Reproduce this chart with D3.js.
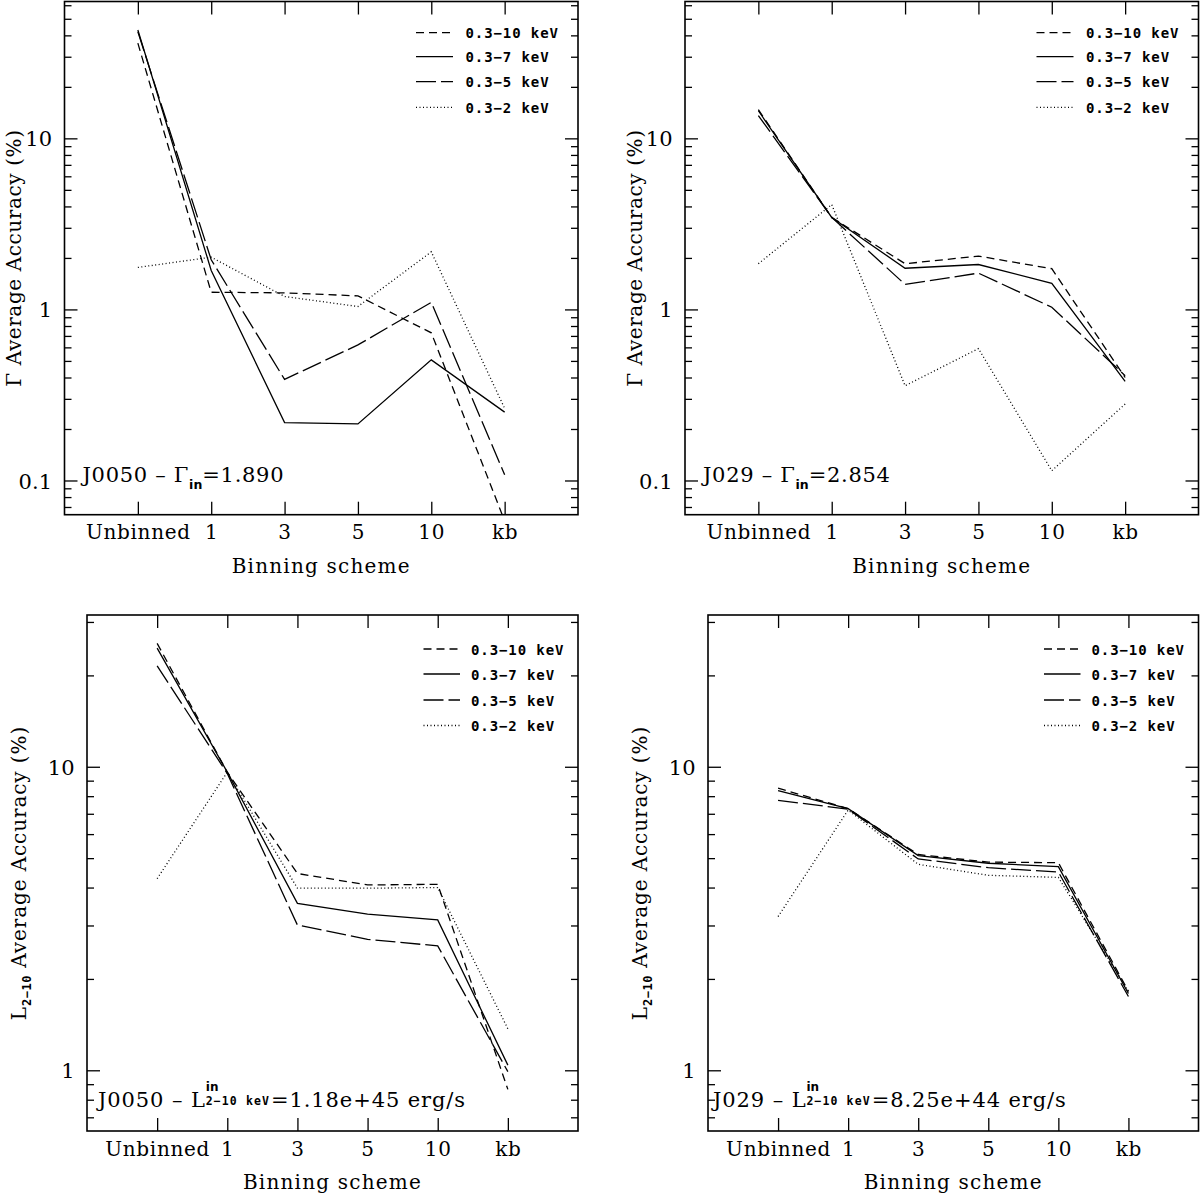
<!DOCTYPE html>
<html><head><meta charset="utf-8">
<script src="https://cdn.jsdelivr.net/npm/d3@7"></script>
<style>body{margin:0;background:#fff} svg{display:block}</style>
</head><body><svg id="c" width="1200" height="1195"></svg>
<script>
// ---------- data ----------
const categories = ["Unbinned", "1", "3", "5", "10", "kb"];
const bands = ["0.3-10 keV", "0.3-7 keV", "0.3-5 keV", "0.3-2 keV"];

// Gamma accuracy, J0050
const gammaJ0050_10 = [36, 1.26, 1.25, 1.2, 0.73, 0.058];
const gammaJ0050_7  = [43, 1.69, 0.218, 0.214, 0.507, 0.251];
const gammaJ0050_5  = [42, 1.95, 0.39, 0.62, 1.1, 0.108];
const gammaJ0050_2  = [1.76, 2.02, 1.19, 1.04, 2.17, 0.264];
// Gamma accuracy, J029
const gammaJ029_10 = [14.7, 3.45, 1.85, 2.05, 1.73, 0.40];
const gammaJ029_7  = [14.5, 3.45, 1.74, 1.83, 1.42, 0.38];
const gammaJ029_5  = [13.6, 3.45, 1.40, 1.63, 1.03, 0.41];
const gammaJ029_2  = [1.85, 4.1, 0.358, 0.59, 0.114, 0.28];
// L2-10 accuracy, J0050
const lumJ0050_10 = [25.5, 9.6, 4.45, 4.08, 4.1, 0.865];
const lumJ0050_7  = [24.6, 9.6, 3.55, 3.27, 3.13, 1.04];
const lumJ0050_5  = [21.5, 9.5, 3.01, 2.70, 2.57, 0.99];
const lumJ0050_2  = [4.28, 9.6, 3.98, 3.98, 4.0, 1.37];
// L2-10 accuracy, J029
const lumJ029_10 = [8.5, 7.28, 5.14, 4.85, 4.83, 1.82];
const lumJ029_7  = [8.34, 7.28, 5.1, 4.81, 4.69, 1.79];
const lumJ029_5  = [7.75, 7.25, 4.97, 4.65, 4.5, 1.75];
const lumJ029_2  = [3.21, 7.2, 4.77, 4.39, 4.32, 1.82];

const annotations = [
  {src: "J0050", kind: "gamma", val: "1.890"},
  {src: "J029",  kind: "gamma", val: "2.854"},
  {src: "J0050", kind: "lum",   val: "1.18e+45 erg/s"},
  {src: "J029",  kind: "lum",   val: "8.25e+44 erg/s"}
];

// ---------- style / layout ----------
const SERIF = "'DejaVu Serif', serif";
const MONO = "'DejaVu Sans Mono', monospace";
const SANS = "'DejaVu Sans', sans-serif";
const dashFor = ["8,5", null, "20,5", "1,2.5"];

const panels = [
  {left: 64.5, right: 578, top: 1.5, bottom: 514.7, lo: -1.2, hi: 1.8,
   series: [gammaJ0050_10, gammaJ0050_7, gammaJ0050_5, gammaJ0050_2],
   titleOff: 43.5, legY: [32.7, 56.7, 81.7, 107.3], legLine: [162, 125], legText: 112.5,
   annX: 82.5, annY: 482, ann: annotations[0]},
  {left: 685, right: 1198.5, top: 1.5, bottom: 514.7, lo: -1.2, hi: 1.8,
   series: [gammaJ029_10, gammaJ029_7, gammaJ029_5, gammaJ029_2],
   titleOff: 43.5, legY: [32.7, 56.7, 81.7, 107.3], legLine: [162, 125], legText: 112.5,
   annX: 703, annY: 482, ann: annotations[1]},
  {left: 87, right: 578, top: 615, bottom: 1131, lo: -0.2, hi: 1.5,
   series: [lumJ0050_10, lumJ0050_7, lumJ0050_5, lumJ0050_2],
   titleOff: 61, legY: [649, 674, 700, 725.5], legLine: [154.5, 118], legText: 107,
   annX: 98, annY: 1106.5, ann: annotations[2]},
  {left: 708, right: 1198.5, top: 615, bottom: 1131, lo: -0.2, hi: 1.5,
   series: [lumJ029_10, lumJ029_7, lumJ029_5, lumJ029_2],
   titleOff: 61, legY: [649, 674, 700, 725.5], legLine: [154.5, 118], legText: 107,
   annX: 713, annY: 1106.5, ann: annotations[3]}
];

const svg = d3.select("#c");
svg.append("rect").attr("width", 1200).attr("height", 1195).attr("fill", "#fff");

panels.forEach((p, pi) => {
  const g = svg.append("g");
  const x = d3.scaleLinear().domain([-1, 6]).range([p.left, p.right]);
  const y = d3.scaleLog().domain([Math.pow(10, p.lo), Math.pow(10, p.hi)]).range([p.bottom, p.top]);

  // tick values
  const minor = [], major = [];
  for (let k = Math.floor(p.lo); k <= Math.ceil(p.hi); k++) {
    for (let m = 1; m <= 9; m++) {
      const v = m * Math.pow(10, k);
      const lv = Math.log10(v);
      if (lv > p.lo + 1e-9 && lv < p.hi - 1e-9) (m === 1 ? major : minor).push(v);
    }
  }
  const idx = d3.range(categories.length);

  function styleAxis(sel) {
    sel.select(".domain").remove();
    sel.selectAll(".tick line").attr("stroke", "#000").attr("stroke-width", 1.3);
  }
  // ticks (inward)
  g.append("g").attr("transform", `translate(${p.left},0)`)
    .call(d3.axisLeft(y).tickValues(major).tickSize(-13).tickFormat("")).call(styleAxis);
  g.append("g").attr("transform", `translate(${p.left},0)`)
    .call(d3.axisLeft(y).tickValues(minor).tickSize(-7).tickFormat("")).call(styleAxis);
  g.append("g").attr("transform", `translate(${p.right},0)`)
    .call(d3.axisRight(y).tickValues(major).tickSize(-13).tickFormat("")).call(styleAxis);
  g.append("g").attr("transform", `translate(${p.right},0)`)
    .call(d3.axisRight(y).tickValues(minor).tickSize(-7).tickFormat("")).call(styleAxis);
  g.append("g").attr("transform", `translate(0,${p.bottom})`)
    .call(d3.axisBottom(x).tickValues(idx).tickSize(-13).tickFormat("")).call(styleAxis);
  g.append("g").attr("transform", `translate(0,${p.top})`)
    .call(d3.axisTop(x).tickValues(idx).tickSize(-13).tickFormat("")).call(styleAxis);

  // tick labels
  const yl = g.append("g").attr("transform", `translate(${p.left},0)`)
    .call(d3.axisLeft(y).tickValues(major).tickSize(0).tickPadding(12.5)
      .tickFormat(d => d >= 1 ? String(Math.round(d)) : String(+d.toFixed(3))));
  yl.select(".domain").remove();
  yl.selectAll("text").attr("font-family", SERIF).attr("font-size", 21).attr("fill", "#000").attr("dy", "0.36em");

  const xl = g.append("g").attr("transform", `translate(0,${p.bottom})`)
    .call(d3.axisBottom(x).tickValues(idx).tickSize(0).tickPadding(10.5).tickFormat(i => categories[i]));
  xl.select(".domain").remove();
  xl.selectAll("text").attr("font-family", SERIF).attr("font-size", 20).attr("fill", "#000")
    .attr("letter-spacing", "0.7px");

  g.append("text").attr("x", (p.left + p.right) / 2).attr("y", p.bottom + 58)
    .attr("text-anchor", "middle").attr("font-family", SERIF).attr("font-size", 20)
    .attr("letter-spacing", "1.2px").text("Binning scheme");

  // y title
  const yt = g.append("text")
    .attr("transform", `translate(${p.left - p.titleOff},${(p.top + p.bottom) / 2}) rotate(-90)`)
    .attr("text-anchor", "middle").attr("font-family", SERIF).attr("font-size", 20)
    .attr("letter-spacing", p.ann.kind === "gamma" ? "0.6px" : "0.9px");
  if (p.ann.kind === "gamma") {
    yt.text("\u0393 Average Accuracy (%)");
  } else {
    yt.append("tspan").text("L");
    yt.append("tspan").attr("font-family", MONO).attr("font-weight", "bold").attr("font-size", 12)
      .attr("letter-spacing", "0.5px").attr("dy", 5).text("2\u221210");
    yt.append("tspan").attr("dy", -5).text(" Average Accuracy (%)");
  }

  // clip
  const cid = "clip" + pi;
  svg.append("clipPath").attr("id", cid).append("rect")
    .attr("x", p.left).attr("y", p.top).attr("width", p.right - p.left).attr("height", p.bottom - p.top);

  const line = d3.line().x((d, i) => x(i)).y(d => y(d));
  const lg = g.append("g").attr("clip-path", `url(#${cid})`);
  p.series.forEach((s, si) => {
    lg.append("path").attr("d", line(s)).attr("fill", "none").attr("stroke", "#000")
      .attr("stroke-width", 1.3).attr("stroke-dasharray", dashFor[si]);
  });

  // frame
  g.append("rect").attr("x", p.left).attr("y", p.top).attr("width", p.right - p.left)
    .attr("height", p.bottom - p.top).attr("fill", "none").attr("stroke", "#000").attr("stroke-width", 1.6);

  // legend
  bands.forEach((b, bi) => {
    const ly = p.legY[bi];
    g.append("line").attr("x1", p.right - p.legLine[0]).attr("x2", p.right - p.legLine[1])
      .attr("y1", ly).attr("y2", ly).attr("stroke", "#000").attr("stroke-width", 1.3)
      .attr("stroke-dasharray", dashFor[bi]);
    g.append("text").attr("x", p.right - p.legText).attr("y", ly + 5.5)
      .attr("font-family", MONO).attr("font-weight", "bold").attr("font-size", 14)
      .attr("letter-spacing", "0.9px").text(b.replace("-", "\u2212"));
  });

  // annotation
  const a = p.ann;
  if (a.kind === "gamma") {
    const t = g.append("text").attr("x", p.annX).attr("y", p.annY)
      .attr("font-family", SERIF).attr("font-size", 21).attr("letter-spacing", "0.7px");
    t.append("tspan").text(a.src + " \u2013 \u0393");
    t.append("tspan").attr("font-family", SANS).attr("font-weight", "bold").attr("font-size", 12.5)
      .attr("letter-spacing", "0px").attr("dy", 6.5).text("in");
    t.append("tspan").attr("dy", -6.5).text("=" + a.val);
  } else {
    const t = g.append("text").attr("x", p.annX).attr("y", p.annY)
      .attr("font-family", SERIF).attr("font-size", 21).attr("letter-spacing", "0.9px");
    t.append("tspan").text(a.src + " \u2013 L");
    const sup = t.append("tspan").attr("font-family", SANS).attr("font-weight", "bold")
      .attr("font-size", 12).attr("letter-spacing", "0px").attr("dy", -16).text("in");
    const wSup = sup.node().getComputedTextLength();
    t.append("tspan").attr("font-family", MONO).attr("font-weight", "bold")
      .attr("font-size", 11.5).attr("letter-spacing", "1.1px")
      .attr("dx", -wSup).attr("dy", 14).text("2\u221210 keV");
    t.append("tspan").attr("dx", 1).attr("dy", 2).text("=" + a.val);
  }
});
</script>
</body></html>
